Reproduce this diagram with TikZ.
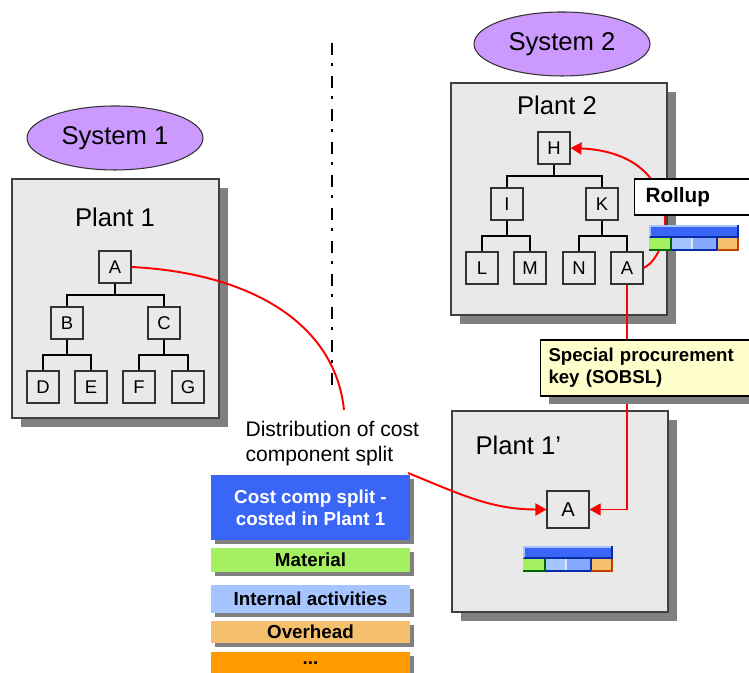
\documentclass[tikz,border=0pt]{standalone}
\usepackage{fontspec}
\setmainfont{Liberation Sans}
\usepackage{tikz}
\usetikzlibrary{calc, shadows, arrows.meta, shapes.geometric}
\definecolor{plantgray}{HTML}{E9E9E9}
\definecolor{shadowgray}{HTML}{808080}
\definecolor{sysviolet}{HTML}{CC99FF}
\definecolor{noteyellow}{HTML}{FFFFCC}
\definecolor{splitblue}{HTML}{3A66F7}
\definecolor{matgreen}{HTML}{A4F060}
\definecolor{intblue}{HTML}{A6C4FF}
\definecolor{ovhorange}{HTML}{F5C06E}
\definecolor{restorange}{HTML}{FF9A00}
\definecolor{bardark}{HTML}{0A2BA8}
\definecolor{ovhdark}{HTML}{C04000}
\definecolor{linkred}{HTML}{FF0000}
\tikzset{
	plantframe/.style={fill=plantgray, draw=black!75,
		drop shadow={fill=shadowgray, opacity=1, shadow xshift=0.17cm, shadow yshift=-0.18cm}},
	plantlabel/.style={font=\fontsize{14.6}{17}\selectfont, inner sep=0},
	sysellipse/.style={ellipse, draw=black!80, fill=sysviolet, minimum width=3.52cm,
		minimum height=1.28cm, font=\fontsize{14.6}{17}\selectfont}
}
\tikzset{
	partbox/.style={draw=black!80, fill=plantgray, minimum size=0.64cm, inner sep=0,
		font=\fontsize{10.5}{12}\selectfont},
	treeline/.style={draw=black, line width=0.6pt},
	linkcurve/.style={draw=linkred, line width=1.1pt},
	linkline/.style={draw=linkred, line width=0.6pt},
	redtip/.style={-{Triangle[length=0.22cm, width=0.24cm]}},
	sepline/.style={line width=1.7pt, dash pattern=on 0.24cm off 0.17cm on 0.06cm off 0.19cm}
}
\tikzset{
	notebox/.style={draw=black, fill=white, align=left, inner ysep=0,
		font=\bfseries\fontsize{10.6}{12.5}\selectfont},
	legendbox/.style={minimum width=3.98cm, inner sep=0, font=\bfseries\fontsize{10.7}{12.5}\selectfont,
		drop shadow={fill=shadowgray, opacity=1, shadow xshift=0.07cm, shadow yshift=-0.08cm}},
	costbar/.pic={
		% summary bar
		\fill[splitblue] (0,0.26) rectangle (1.80,0.52);
		\draw[intblue, line width=0.9pt] (0.02,0.28) |- (1.76,0.50);
		\draw[bardark, line width=1.1pt] (0.02,0.28) -- (1.78,0.28) -- (1.78,0.52);
		% split segments
		\fill[matgreen] (0,0) rectangle (0.44,0.26);
		\fill[intblue] (0.44,0) rectangle (0.86,0.26);
		\fill[intblue!70!splitblue] (0.86,0) rectangle (1.36,0.26);
		\fill[ovhorange] (1.36,0) rectangle (1.80,0.26);
		\draw[green!40!black, line width=1.1pt] (0,0.02) -- (0.44,0.02) -- (0.44,0.26);
		\draw[bardark, line width=1.1pt] (0.44,0.02) -- (1.36,0.02) -- (1.36,0.26);
		\draw[white!60!intblue, line width=0.6pt] (0.86,0.03) -- (0.86,0.26);
		\draw[ovhdark, line width=1.1pt] (1.36,0.02) -- (1.78,0.02) -- (1.78,0.26);
	}
}

\begin{document}
\begin{tikzpicture}[line width=0.6pt]
      \useasboundingbox (0,0) rectangle (14.98,13.46);

      % systems
      \node[sysellipse] (sys1) at (2.30,10.70) {System 1};
      \node[sysellipse] (sys2) at (11.24,12.58) {System 2};

      % plant frames
      \filldraw[plantframe] (0.24,5.10) rectangle (4.38,9.88);
      \filldraw[plantframe] (9.02,7.16) rectangle (13.34,11.80);
      \filldraw[plantframe] (9.04,1.22) rectangle (13.36,5.24);
      \node[plantlabel] (plant1) at (2.30,9.12) {Plant 1};
      \node[plantlabel] (plant2) at (11.14,11.36) {Plant 2};
      \node[plantlabel, anchor=west] (plant1p) at (9.50,4.56) {Plant 1’};

      % system border
      \draw[sepline] (6.64,12.60) -- (6.64,5.76);

      % BOM in plant 1
      \node[partbox] (p1A) at (2.30,8.12) {A};
      \node[partbox] (p1B) at (1.34,7.00) {B};
      \node[partbox] (p1C) at (3.28,7.00) {C};
      \node[partbox] (p1D) at (0.86,5.72) {D};
      \node[partbox] (p1E) at (1.82,5.72) {E};
      \node[partbox] (p1F) at (2.78,5.72) {F};
      \node[partbox] (p1G) at (3.76,5.72) {G};
      \foreach \p/\c in {p1A/p1B, p1A/p1C, p1B/p1D, p1B/p1E, p1C/p1F, p1C/p1G} {
        \draw[treeline] (\p.south) |- ($(\p.south)!0.5!(\c.north)$) -| (\c.north);
      }

      % BOM in plant 2
      \node[partbox] (p2H) at (11.08,10.50) {H};
      \node[partbox] (p2I) at (10.14,9.38) {I};
      \node[partbox] (p2K) at (12.04,9.38) {K};
      \node[partbox] (p2L) at (9.64,8.10) {L};
      \node[partbox] (p2M) at (10.60,8.10) {M};
      \node[partbox] (p2N) at (11.58,8.10) {N};
      \node[partbox] (p2A) at (12.54,8.10) {A};
      \foreach \p/\c in {p2H/p2I, p2H/p2K, p2I/p2L, p2I/p2M, p2K/p2N, p2K/p2A} {
        \draw[treeline] (\p.south) |- ($(\p.south)!0.5!(\c.north)$) -| (\c.north);
      }

      % material in plant 1'
      \node[partbox, minimum width=0.84cm, minimum height=0.74cm,
        font=\fontsize{11.5}{13}\selectfont] (p3A) at (11.36,3.27) {A};

      % rollup into plant 2
      \draw[linkcurve, redtip] (p2A.east) .. controls (13.5,8.4) and (13.7,10.4) .. (p2H.east);
      \node[notebox, anchor=west, text width=2.2cm, inner xsep=0.22cm, minimum height=0.72cm,
        font=\bfseries\fontsize{11.8}{14}\selectfont] (rollup) at (12.68,9.52) {Rollup};
      \pic at (12.98,8.44) {costbar};
      \pic at (10.46,2.02) {costbar};

      % special procurement link
      \draw[linkline, redtip] (p2A.south) |- (p3A.east);
      \node[notebox, fill=noteyellow, anchor=west, text width=4.2cm, inner xsep=0.16cm,
        minimum height=1.12cm,
        drop shadow={fill=shadowgray, opacity=1, shadow xshift=0.16cm, shadow yshift=-0.16cm}]
        (sobsl) at (10.80,6.10) {Special procurement\\key (SOBSL)};

      % distribution of the split
      \node[anchor=north west, inner sep=0, align=left, font=\fontsize{12}{14.2}\selectfont]
        (dist) at (4.90,5.04) {Distribution of cost\\component split};
      \coordinate (distin) at (6.88,5.26);
      \coordinate (distout) at (8.16,4.00);
      \draw[linkcurve] (p1A.east) .. controls (5.0,8.0) and (6.7,7.0) .. (distin);
      \draw[linkcurve, redtip] (distout) to[out=-22, in=180] (p3A.west);

      % legend of the split
      \node[legendbox, fill=splitblue, text=white, minimum height=1.30cm, align=center]
        (split) at (6.21,3.31) {Cost comp split -\\costed in Plant 1};
      \node[legendbox, fill=matgreen, minimum height=0.48cm] (mat) at (6.21,2.26) {Material};
      \node[legendbox, fill=intblue, minimum height=0.56cm] (int) at (6.21,1.48) {Internal activities};
      \node[legendbox, fill=ovhorange, minimum height=0.44cm] (ovh) at (6.21,0.82) {Overhead};
      \node[legendbox, fill=restorange, minimum height=0.44cm] (rest) at (6.21,0.20) {...};
    \end{tikzpicture}
\end{document}
